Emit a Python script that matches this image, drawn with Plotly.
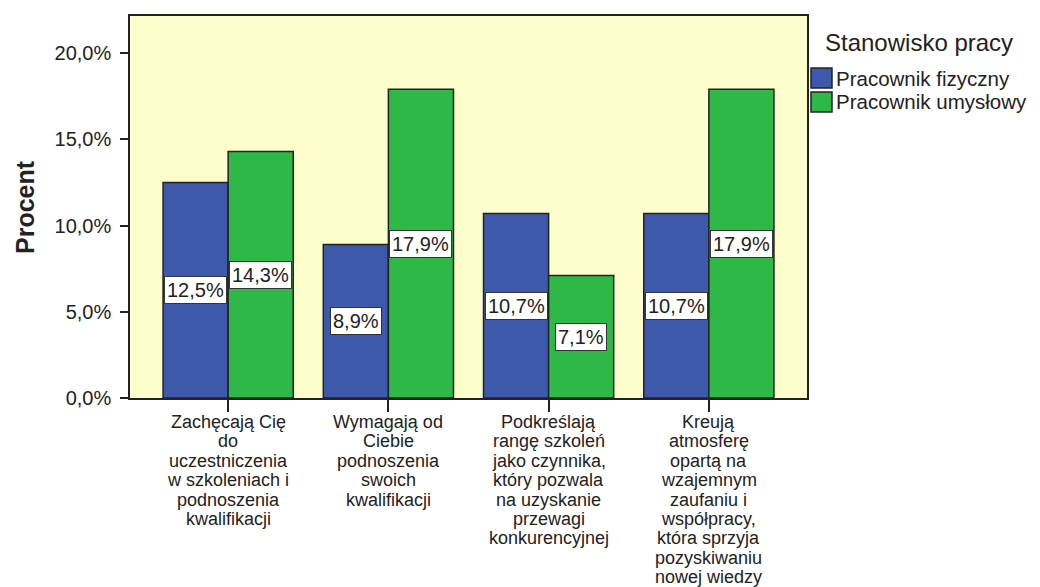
import plotly.graph_objects as go

# ---- data ----
categories = [
    "Zachęcają Cię<br>do<br>uczestniczenia<br>w szkoleniach i<br>podnoszenia<br>kwalifikacji",
    "Wymagają od<br>Ciebie<br>podnoszenia<br>swoich<br>kwalifikacji",
    "Podkreślają<br>rangę szkoleń<br>jako czynnika,<br>który pozwala<br>na uzyskanie<br>przewagi<br>konkurencyjnej",
    "Kreują<br>atmosferę<br>opartą na<br>wzajemnym<br>zaufaniu i<br>współpracy,<br>która sprzyja<br>pozyskiwaniu<br>nowej wiedzy",
]
series_names = ["Pracownik fizyczny", "Pracownik umysłowy"]
fizyczny = [12.5, 8.9, 10.7, 10.7]
umyslowy = [14.3, 17.9, 7.1, 17.9]
y_ticks = [0, 5, 10, 15, 20]
legend_title = "Stanowisko pracy"
y_title = "Procent"

# ---- style ----
FONT = "Liberation Sans, Arial, sans-serif"
TXT = "#222222"
EDGE = "#222222"
colors = ["#3E58AC", "#2EB848"]
bg = "#FEFDCC"
bar_w = 0.40625

W, H = 1040, 587
L, R, T, B = 130, 233, 16, 189
PW, PH = W - L - R, H - T - B


def px_x(p):
    return (p - L) / PW


def px_y(p):
    return (H - B - p) / PH


def fmt(v):
    return f"{v:.1f}".replace(".", ",") + "%"


xs = list(range(len(categories)))
fig = go.Figure()
series = [fizyczny, umyslowy]
offsets = [-bar_w, 0.0]
for name, vals, col, off in zip(series_names, series, colors, offsets):
    fig.add_trace(go.Bar(
        x=xs, y=vals, name=name, width=bar_w, offset=off,
        marker=dict(color=col, line=dict(color=EDGE, width=1.5)),
        showlegend=False, hoverinfo="skip",
    ))

annotations = []
# value labels in white boxes at half bar height
for vals, off in zip(series, offsets):
    for i, v in zip(xs, vals):
        annotations.append(dict(
            x=i + off + bar_w / 2, y=v / 2, xref="x", yref="y",
            text=fmt(v), showarrow=False,
            font=dict(family=FONT, size=20, color=TXT),
            bgcolor="white", bordercolor="#333333", borderwidth=1, borderpad=2,
            xanchor="center", yanchor="middle",
        ))

# category labels, one annotation per line for tight line spacing
for i, cat in enumerate(categories):
    for j, line in enumerate(cat.split("<br>")):
        annotations.append(dict(
            x=i, y=0, xref="x", yref="paper",
            text=line, showarrow=False,
            font=dict(family=FONT, size=18, color=TXT),
            xanchor="center", yanchor="middle",
            yshift=-(24 + j * 19.4),
        ))

# y axis title
annotations.append(dict(
    x=0, y=0.5, xref="paper", yref="paper", text=f"<b>{y_title}</b>",
    showarrow=False, textangle=-90, xanchor="center", yanchor="middle",
    xshift=25 - L, font=dict(family=FONT, size=25, color=TXT),
))

# legend built from series names and colours
annotations.append(dict(
    x=px_x(823), y=px_y(42), xref="paper", yref="paper", text=legend_title,
    showarrow=False, xanchor="left", yanchor="middle",
    font=dict(family=FONT, size=24, color=TXT),
))
shapes = []
for k, (name, col) in enumerate(zip(series_names, colors)):
    cy = 78 + k * 24
    shapes.append(dict(
        type="rect", xref="paper", yref="paper",
        x0=px_x(811), x1=px_x(832), y0=px_y(cy - 10), y1=px_y(cy + 10),
        fillcolor=col, line=dict(color=EDGE, width=1.5),
    ))
    annotations.append(dict(
        x=px_x(834), y=px_y(cy), xref="paper", yref="paper", text=name,
        showarrow=False, xanchor="left", yanchor="middle",
        font=dict(family=FONT, size=20.5, color=TXT),
    ))

fig.update_layout(
    width=W, height=H,
    margin=dict(l=L, r=R, t=T, b=B, pad=0),
    paper_bgcolor="white", plot_bgcolor=bg,
    barmode="overlay",
    font=dict(family=FONT, size=20, color=TXT),
    annotations=annotations, shapes=shapes,
    xaxis=dict(
        range=[-0.6125, len(categories) - 1 + 0.6125],
        tickvals=xs, showticklabels=False,
        ticks="outside", ticklen=12, tickwidth=1.5, tickcolor=EDGE,
        showline=True, linecolor=EDGE, linewidth=1.5, mirror=True,
        showgrid=False, zeroline=False, fixedrange=True,
    ),
    yaxis=dict(
        range=[0, 22.15], tickvals=y_ticks, ticktext=[fmt(v) for v in y_ticks],
        ticks="outside", ticklen=8, tickwidth=1.5, tickcolor=EDGE,
        ticklabelstandoff=5,
        tickfont=dict(family=FONT, size=20, color=TXT),
        showline=True, linecolor=EDGE, linewidth=1.5, mirror=True,
        showgrid=False, zeroline=False, fixedrange=True,
    ),
)

fig.write_html("out.html")
